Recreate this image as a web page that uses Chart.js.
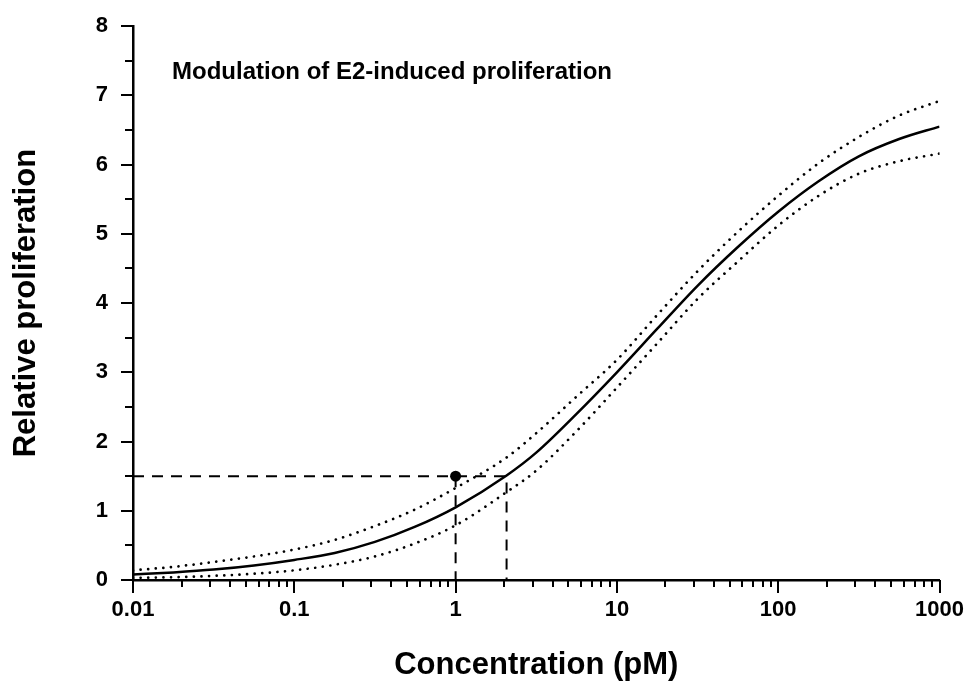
<!DOCTYPE html>
<html>
<head>
<meta charset="utf-8">
<script src="https://cdn.jsdelivr.net/npm/chart.js@4/dist/chart.umd.min.js"></script>
<style>
  html, body { margin: 0; padding: 0; background: #fff; }
  canvas { display: block; }
</style>
</head>
<body>
<canvas id="chart" width="968" height="684"></canvas>
<script>
// Concentration grid (pM) at which the fitted curves are sampled
const concentration = [0.01, 0.0178, 0.0316, 0.0562, 0.1, 0.178, 0.316, 0.562, 1, 2.07, 3.16, 5.62, 10, 17.8, 31.6, 56.2, 100, 178, 316, 562, 1000];
// Fitted dose-response curve and its confidence band
const fitMean  = [0.08, 0.11, 0.15, 0.21, 0.29, 0.39, 0.55, 0.77, 1.05, 1.51, 1.84, 2.40, 3.00, 3.63, 4.25, 4.81, 5.32, 5.76, 6.12, 6.37, 6.55];
const fitUpper = [0.14, 0.19, 0.26, 0.34, 0.44, 0.58, 0.78, 1.02, 1.33, 1.77, 2.12, 2.65, 3.18, 3.83, 4.46, 5.03, 5.55, 6.02, 6.40, 6.71, 6.92];
const fitLower = [0.03, 0.04, 0.06, 0.09, 0.14, 0.22, 0.34, 0.53, 0.79, 1.27, 1.58, 2.15, 2.78, 3.42, 4.06, 4.60, 5.12, 5.55, 5.87, 6.05, 6.16];

// Measured point and the read-off guides at 1.5-fold proliferation
const markerX = [1];
const markerY = [1.5];
const readoutX = [0.01, 2.07, 2.07];
const readoutY = [1.5, 1.5, 0];
const dropX = [1, 1];
const dropY = [1.5, 0];

// Axis ticks
const xTickValues = [0.01, 0.1, 1, 10, 100, 1000];
const xTickLabels = ['0.01', '0.1', '1', '10', '100', '1000'];
const yTickValues = [0, 1, 2, 3, 4, 5, 6, 7, 8];
const yTickLabels = ['0', '1', '2', '3', '4', '5', '6', '7', '8'];

const chartTitle = 'Modulation of E2-induced proliferation';
const xTitle = 'Concentration (pM)';
const yTitle = 'Relative proliferation';

const FONT = '"Liberation Sans", Arial, Helvetica, sans-serif';
const INK = '#000';

const pts = (xs, ys) => xs.map((v, i) => ({ x: v, y: ys[i] }));

// White page background
const background = {
  id: 'background',
  beforeDraw(chart) {
    const { ctx, width, height } = chart;
    ctx.save();
    ctx.fillStyle = '#fff';
    ctx.fillRect(0, 0, width, height);
    ctx.restore();
  }
};

// Outward major/minor tick marks and the in-plot caption
const ticksAndCaption = {
  id: 'ticksAndCaption',
  afterDraw(chart) {
    const { ctx, chartArea, scales: { x, y } } = chart;
    ctx.save();
    ctx.strokeStyle = INK;
    ctx.lineWidth = 2;
    ctx.beginPath();
    yTickValues.forEach((v, i) => {
      const py = Math.round(y.getPixelForValue(v));
      ctx.moveTo(chartArea.left - 12, py);
      ctx.lineTo(chartArea.left, py);
      if (i < yTickValues.length - 1) {
        const pm = Math.round(y.getPixelForValue((v + yTickValues[i + 1]) / 2));
        ctx.moveTo(chartArea.left - 8, pm);
        ctx.lineTo(chartArea.left, pm);
      }
    });
    xTickValues.forEach((v, i) => {
      const px = Math.round(x.getPixelForValue(v));
      ctx.moveTo(px, chartArea.bottom);
      ctx.lineTo(px, chartArea.bottom + 13);
      if (i < xTickValues.length - 1) {
        for (let m = 2; m <= 9; m++) {
          const pm = Math.round(x.getPixelForValue(v * m));
          ctx.moveTo(pm, chartArea.bottom);
          ctx.lineTo(pm, chartArea.bottom + 7);
        }
      }
    });
    ctx.stroke();

    ctx.fillStyle = INK;
    ctx.font = 'bold 24px ' + FONT;
    ctx.textBaseline = 'middle';
    ctx.textAlign = 'left';
    ctx.fillText(chartTitle, chartArea.left + 39, chartArea.top + 46);
    ctx.restore();
  }
};

new Chart(document.getElementById('chart'), {
  type: 'line',
  data: {
    datasets: [
      {
        data: pts(concentration, fitMean),
        borderColor: INK, borderWidth: 2.5,
        pointRadius: 0, cubicInterpolationMode: 'monotone', fill: false
      },
      {
        data: pts(concentration, fitUpper),
        borderColor: INK, borderWidth: 2.7, borderDash: [0.01, 7.6], borderCapStyle: 'round',
        pointRadius: 0, cubicInterpolationMode: 'monotone', fill: false
      },
      {
        data: pts(concentration, fitLower),
        borderColor: INK, borderWidth: 2.7, borderDash: [0.01, 7.6], borderCapStyle: 'round',
        pointRadius: 0, cubicInterpolationMode: 'monotone', fill: false
      },
      {
        data: pts(readoutX, readoutY),
        borderColor: INK, borderWidth: 2, borderDash: [11, 8],
        pointRadius: 0, tension: 0, fill: false
      },
      {
        data: pts(dropX, dropY),
        borderColor: INK, borderWidth: 2, borderDash: [11, 8],
        pointRadius: 0, tension: 0, fill: false
      },
      {
        data: pts(markerX, markerY),
        showLine: false,
        pointRadius: 5.5, pointBackgroundColor: INK, pointBorderColor: INK, pointBorderWidth: 0
      }
    ]
  },
  options: {
    responsive: false,
    animation: false,
    devicePixelRatio: 1,
    layout: { padding: { left: 0, right: 28, top: 23, bottom: 0 } },
    plugins: {
      legend: { display: false },
      tooltip: { enabled: false }
    },
    scales: {
      x: {
        type: 'logarithmic',
        min: 0.01, max: 1000,
        afterBuildTicks: s => { s.ticks = xTickValues.map(v => ({ value: v })); },
        afterFit: s => { s.height = 104; },
        grid: { display: false, drawTicks: true, tickLength: 13 },
        border: { display: true, color: INK, width: 2.5 },
        ticks: {
          autoSkip: false, maxRotation: 0, padding: 4, color: INK,
          font: { family: FONT, size: 22, weight: 'bold' },
          callback: (v, i) => xTickLabels[i]
        },
        title: {
          display: true, text: xTitle, color: INK,
          font: { family: FONT, size: 31, weight: 'bold' },
          padding: { top: 0, bottom: 0 }
        }
      },
      y: {
        type: 'linear',
        min: 0, max: 8,
        afterBuildTicks: s => { s.ticks = yTickValues.map(v => ({ value: v })); },
        afterFit: s => { s.width = 133; },
        grid: { display: false, drawTicks: true, tickLength: 12 },
        border: { display: true, color: INK, width: 2.5 },
        ticks: {
          padding: 13, color: INK,
          font: { family: FONT, size: 22, weight: 'bold' },
          callback: (v, i) => yTickLabels[i]
        },
        title: {
          display: true, text: yTitle, color: INK,
          font: { family: FONT, size: 31, weight: 'bold' },
          padding: { top: 8, bottom: 0 }
        }
      }
    }
  },
  plugins: [background, ticksAndCaption]
});
</script>
</body>
</html>
